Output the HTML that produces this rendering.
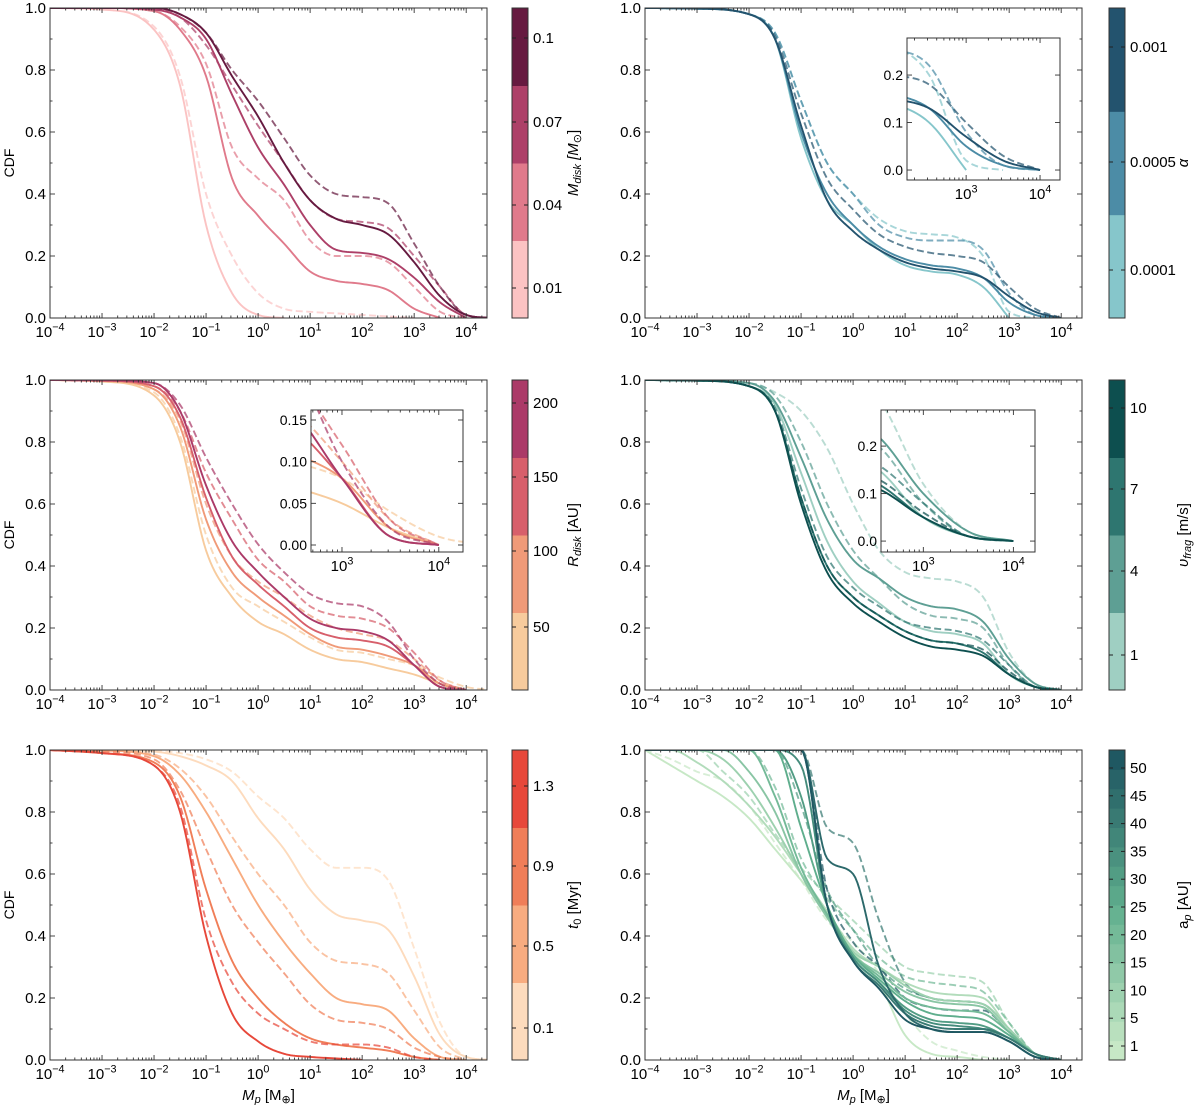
<!DOCTYPE html>
<html><head><meta charset="utf-8"><style>
html,body{margin:0;padding:0;background:#fff}
svg{display:block;font-family:"Liberation Sans","DejaVu Sans",sans-serif}
</style></head><body>
<svg id="fig" width="1200" height="1105" viewBox="0 0 1200 1105" xmlns="http://www.w3.org/2000/svg"></svg>
<script>
// ---------- data ----------
const G = [-4,-3,-2,-1.5,-1,-0.5,0,0.5,1,1.5,2,2.5,3,3.5,4,4.5];
const G6 = [-4,-3.5,-3,-2.5,-2,-1.5,-1,-0.5,0,0.5,1,1.5,2,2.5,3,3.5,4,4.5];

// Panel 1: M_disk
const mdisk001Solid = [1,0.995,0.93,0.75,0.3,0.08,0.01,0,0,0,0,0,0,0,0,0];
const mdisk001Dash  = [1,0.995,0.94,0.78,0.4,0.2,0.08,0.03,0.02,0.015,0.01,0.005,0,0,0,0];
const mdisk004Solid = [1,1,0.99,0.93,0.78,0.45,0.33,0.24,0.15,0.12,0.11,0.09,0.03,0,0,0];
const mdisk004Dash  = [1,1,0.99,0.94,0.82,0.55,0.45,0.38,0.25,0.2,0.2,0.18,0.1,0.02,0,0];
const mdisk007Solid = [1,1,0.995,0.97,0.9,0.72,0.55,0.43,0.3,0.22,0.21,0.19,0.13,0.05,0,0];
const mdisk007Dash  = [1,1,0.995,0.97,0.88,0.75,0.62,0.5,0.38,0.32,0.31,0.29,0.2,0.1,0.01,0];
const mdisk01Solid  = [1,1,1,0.98,0.92,0.78,0.65,0.5,0.38,0.32,0.3,0.27,0.18,0.07,0.01,0];
const mdisk01Dash   = [1,1,1,0.98,0.92,0.8,0.7,0.58,0.46,0.4,0.39,0.37,0.24,0.1,0.01,0];
// Panel 2: alpha
const alpha1e4Solid = [1,0.998,0.98,0.9,0.58,0.38,0.3,0.22,0.17,0.15,0.14,0.1,0,0,0,0];
const alpha1e4Dash  = [1,0.998,0.98,0.92,0.7,0.5,0.4,0.32,0.28,0.27,0.26,0.2,0.02,0,0,0];
const alpha5e4Solid = [1,0.998,0.98,0.9,0.6,0.4,0.3,0.23,0.19,0.17,0.16,0.13,0.05,0.01,0,0];
const alpha5e4Dash  = [1,0.998,0.98,0.92,0.7,0.5,0.4,0.3,0.26,0.25,0.25,0.22,0.08,0.01,0,0];
const alpha1e3Solid = [1,0.998,0.98,0.9,0.62,0.38,0.28,0.22,0.18,0.16,0.15,0.13,0.07,0.02,0,0];
const alpha1e3Dash  = [1,0.998,0.98,0.91,0.66,0.45,0.35,0.27,0.23,0.21,0.2,0.18,0.1,0.03,0,0];
// Panel 3: R_disk
const r50Solid  = [1,0.995,0.95,0.8,0.45,0.3,0.22,0.18,0.13,0.1,0.09,0.07,0.05,0.02,0,0];
const r50Dash   = [1,0.995,0.96,0.82,0.5,0.33,0.27,0.22,0.17,0.13,0.12,0.1,0.08,0.04,0.01,0];
const r100Solid = [1,0.997,0.97,0.85,0.55,0.38,0.3,0.24,0.18,0.14,0.13,0.11,0.08,0.02,0,0];
const r100Dash  = [1,0.997,0.97,0.87,0.6,0.43,0.35,0.3,0.24,0.2,0.18,0.16,0.1,0.03,0,0];
const r150Solid = [1,0.998,0.98,0.88,0.62,0.43,0.34,0.27,0.2,0.17,0.16,0.14,0.08,0.01,0,0];
const r150Dash  = [1,0.998,0.98,0.9,0.7,0.55,0.42,0.35,0.27,0.24,0.23,0.2,0.12,0.03,0,0];
const r200Solid = [1,0.999,0.99,0.9,0.66,0.48,0.38,0.3,0.23,0.2,0.19,0.16,0.08,0.01,0,0];
const r200Dash  = [1,0.999,0.99,0.92,0.75,0.6,0.47,0.38,0.31,0.28,0.27,0.22,0.1,0.02,0,0];
// Panel 4: v_frag
const v1Solid  = [1,0.998,0.98,0.92,0.7,0.48,0.35,0.28,0.22,0.19,0.18,0.15,0.05,0.01,0,0];
const v1Dash   = [1,0.999,0.99,0.96,0.9,0.78,0.6,0.45,0.38,0.36,0.35,0.3,0.12,0.02,0,0];
const v4Solid  = [1,0.998,0.99,0.93,0.75,0.55,0.42,0.36,0.3,0.27,0.26,0.22,0.1,0.02,0,0];
const v4Dash   = [1,0.998,0.99,0.95,0.8,0.6,0.45,0.36,0.28,0.24,0.23,0.2,0.08,0.01,0,0];
const v7Solid  = [1,0.998,0.98,0.9,0.62,0.4,0.3,0.24,0.19,0.16,0.15,0.12,0.05,0.01,0,0];
const v7Dash   = [1,0.998,0.98,0.91,0.65,0.43,0.33,0.27,0.22,0.2,0.19,0.16,0.08,0.01,0,0];
const v10Solid = [1,0.998,0.98,0.9,0.6,0.38,0.28,0.22,0.17,0.14,0.13,0.11,0.05,0.01,0,0];
const v10Dash  = [1,0.998,0.98,0.9,0.62,0.4,0.3,0.24,0.19,0.16,0.15,0.13,0.06,0.01,0,0];
// Panel 5: t0
const t01Solid = [1,1,0.995,0.98,0.95,0.9,0.78,0.68,0.55,0.47,0.45,0.42,0.27,0.08,0.01,0];
const t01Dash  = [1,1,0.997,0.99,0.97,0.93,0.85,0.78,0.68,0.62,0.62,0.58,0.36,0.12,0.01,0];
const t05Solid = [1,0.998,0.98,0.92,0.8,0.65,0.5,0.38,0.28,0.2,0.18,0.16,0.07,0.01,0,0];
const t05Dash  = [1,0.998,0.985,0.94,0.85,0.72,0.6,0.5,0.38,0.32,0.31,0.28,0.16,0.04,0,0];
const t09Solid = [1,0.99,0.96,0.85,0.55,0.32,0.2,0.12,0.07,0.05,0.04,0.03,0.01,0,0,0];
const t09Dash  = [1,0.995,0.97,0.87,0.68,0.5,0.38,0.28,0.18,0.13,0.12,0.1,0.04,0.01,0,0];
const t13Solid = [1,0.99,0.95,0.8,0.4,0.15,0.06,0.02,0.01,0.005,0,0,0,0,0,0];
const t13Dash  = [1,0.99,0.95,0.82,0.45,0.25,0.15,0.1,0.06,0.05,0.05,0.04,0.01,0,0,0];
// Panel 6: a_p (grid G6)
const ap1Solid  = [1,0.95,0.9,0.85,0.78,0.68,0.58,0.48,0.35,0.25,0.08,0.02,0.01,0,0,0,0,0];
const ap5Solid  = [1,1,0.96,0.9,0.82,0.72,0.6,0.48,0.36,0.3,0.25,0.22,0.21,0.2,0.1,0.02,0,0];
const ap10Solid = [1,1,1,0.97,0.88,0.75,0.6,0.47,0.35,0.3,0.24,0.2,0.19,0.18,0.1,0.02,0,0];
const ap15Solid = [1,1,1,1,0.93,0.8,0.6,0.46,0.34,0.28,0.22,0.19,0.18,0.17,0.09,0.02,0,0];
const ap20Solid = [1,1,1,1,1,0.85,0.62,0.47,0.34,0.27,0.2,0.17,0.16,0.15,0.09,0.02,0,0];
const ap25Solid = [1,1,1,1,1,1,0.75,0.5,0.34,0.26,0.19,0.15,0.14,0.13,0.08,0.02,0,0];
const ap30Solid = [1,1,1,1,1,1,0.85,0.5,0.33,0.25,0.17,0.13,0.12,0.11,0.07,0.02,0,0];
const ap35Solid = [1,1,1,1,1,1,0.95,0.5,0.33,0.25,0.16,0.12,0.11,0.1,0.07,0.02,0,0];
const ap40Solid = [1,1,1,1,1,1,1,0.5,0.32,0.24,0.15,0.11,0.1,0.1,0.07,0.02,0,0];
const ap45Solid = [1,1,1,1,1,1,1,0.65,0.6,0.3,0.15,0.1,0.09,0.09,0.06,0.01,0,0];
const ap50Solid = [1,1,1,1,1,1,1,0.5,0.32,0.23,0.13,0.1,0.09,0.09,0.06,0.01,0,0];
const ap1Dash   = [1,0.97,0.93,0.9,0.82,0.7,0.58,0.45,0.38,0.28,0.15,0.06,0.03,0.01,0,0,0,0];
const ap10Dash  = [1,1,1,0.93,0.85,0.73,0.62,0.53,0.45,0.37,0.3,0.28,0.27,0.25,0.12,0.02,0,0];
const ap20Dash  = [1,1,1,1,1,0.88,0.65,0.52,0.42,0.33,0.27,0.25,0.24,0.22,0.12,0.02,0,0];
const ap30Dash  = [1,1,1,1,1,1,0.82,0.55,0.42,0.3,0.23,0.2,0.19,0.18,0.1,0.02,0,0];
const ap40Dash  = [1,1,1,1,1,1,1,0.75,0.7,0.45,0.25,0.2,0.19,0.18,0.1,0.02,0,0];
const ap50Dash  = [1,1,1,1,1,1,1,0.55,0.38,0.3,0.2,0.17,0.16,0.16,0.09,0.02,0,0];

const yTickLabels = ["0.0","0.2","0.4","0.6","0.8","1.0"];
const yTickValues = [0,0.2,0.4,0.6,0.8,1.0];
const xTickExps = [-4,-3,-2,-1,0,1,2,3,4];

// ---------- helpers ----------
const NS="http://www.w3.org/2000/svg";
const svg=document.getElementById('fig');
function mk(tag,attrs,parent){const e=document.createElementNS(NS,tag);for(const k in attrs)e.setAttribute(k,attrs[k]);(parent||svg).appendChild(e);return e;}
function monotone(xs,ys){
  const n=xs.length,d=[],m=new Array(n);
  for(let i=0;i<n-1;i++)d.push((ys[i+1]-ys[i])/(xs[i+1]-xs[i]));
  m[0]=d[0];m[n-1]=d[n-2];
  for(let i=1;i<n-1;i++){m[i]=(d[i-1]*d[i]<=0)?0:(d[i-1]+d[i])/2;}
  for(let i=0;i<n-1;i++){if(d[i]===0){m[i]=0;m[i+1]=0;continue;}const a=m[i]/d[i],b=m[i+1]/d[i],s=a*a+b*b;if(s>9){const t=3/Math.sqrt(s);m[i]=t*a*d[i];m[i+1]=t*b*d[i];}}
  const pts=[];
  for(let i=0;i<n-1;i++){const h=xs[i+1]-xs[i];for(let k=0;k<12;k++){const t=k/12,t2=t*t,t3=t2*t;
    const y=(2*t3-3*t2+1)*ys[i]+(t3-2*t2+t)*h*m[i]+(-2*t3+3*t2)*ys[i+1]+(t3-t2)*h*m[i+1];pts.push([xs[i]+t*h,y]);}}
  pts.push([xs[n-1],ys[n-1]]);return pts;
}
function trim(xs,ys){let last=ys.length-1;while(last>0&&ys[last]===0&&ys[last-1]===0)last--;return [xs.slice(0,last+1),ys.slice(0,last+1)];}
function hex(c){return [parseInt(c.slice(1,3),16),parseInt(c.slice(3,5),16),parseInt(c.slice(5,7),16)];}
function mix(a,b,t){const A=hex(a),B=hex(b);return 'rgb('+A.map((v,i)=>Math.round(v+(B[i]-v)*t)).join(',')+')';}
function supLabel(parent,x,y,exp,size,name){
  const t=mk('text',{x:x,y:y,'text-anchor':'middle','font-size':size,fill:'#000'},parent);
  
  t.appendChild(document.createTextNode('10'));
  const s=mk('tspan',{'font-size':size*0.72,dy:-size*0.45},t);s.textContent=(exp<0?'\u2212':'')+Math.abs(exp);
  return t;
}
let clipId=0;
function drawSeries(g,sx,sy,grid,series,clip){
  series.forEach(s=>{
    const [xs,ys]=trim(grid,s.y);
    const pts=monotone(xs,ys);
    const d=pts.map((p,i)=>(i?'L':'M')+sx(p[0]).toFixed(2)+','+sy(Math.max(-0.001,p[1])).toFixed(2)).join('');
    const p=mk('path',{d:d,fill:'none',stroke:s.c,'stroke-width':1.9,'stroke-linejoin':'round','clip-path':'url(#'+clip+')'},g);
    if(s.dash){p.setAttribute('stroke-dasharray','7,3.5');p.setAttribute('stroke-opacity','0.72');}
    
    
  });
}
function panel(cfg){
  const g=mk('g',{});
  
  
  const L=cfg.l,T=cfg.t,W=437,H=310;
  const XMIN=-4,XMAX=4.4;
  const sx=v=>L+(v-XMIN)/(XMAX-XMIN)*W, sy=v=>T+H-(v)*H;
  const cid='clip'+(clipId++);
  const cp=mk('clipPath',{id:cid},g);mk('rect',{x:L,y:T,width:W,height:H},cp);
  drawSeries(g,sx,sy,cfg.grid,cfg.series,cid);
  const fr=mk('rect',{x:L,y:T,width:W,height:H,fill:'none',stroke:'#333','stroke-width':1},g);
  
  for(let e=-4;e<=4;e++){
    for(let k=1;k<10;k++){const v=e+Math.log10(k);if(v>XMAX)break;const x=sx(v),len=k===1?5:2.5;
      mk('line',{x1:x,x2:x,y1:T+H,y2:T+H-len,stroke:'#333','stroke-width':0.9},g);
      mk('line',{x1:x,x2:x,y1:T,y2:T+len,stroke:'#333','stroke-width':0.9},g);}
  }
  xTickExps.forEach(e=>supLabel(g,sx(e),T+H+19,e,15,'x-tick-label'));
  for(let i=0;i<=10;i++){const y=sy(i/10),len=i%2===0?5:2.5;
    mk('line',{x1:L,x2:L+len,y1:y,y2:y,stroke:'#333','stroke-width':0.9},g);
    mk('line',{x1:L+W,x2:L+W-len,y1:y,y2:y,stroke:'#333','stroke-width':0.9},g);}
  yTickValues.forEach((v,i)=>{const t=mk('text',{x:L-4,y:sy(v)+5,'text-anchor':'end','font-size':15},g);t.textContent=yTickLabels[i];
    });
  if(cfg.ylabel){const t=mk('text',{x:14,y:T+H/2,'text-anchor':'middle','font-size':14,transform:'rotate(-90 14 '+(T+H/2)+')'},g);t.textContent='CDF';
    }
  if(cfg.xlabel){const t=mk('text',{x:L+W/2,y:T+H+40,'text-anchor':'middle','font-size':15},g);
    
    const a=mk('tspan',{'font-style':'italic'},t);a.textContent='M';
    const b=mk('tspan',{'font-style':'italic','font-size':11,dy:3},t);b.textContent='p';
    const c=mk('tspan',{dy:-3},t);c.textContent=' [M';
    const d=mk('tspan',{'font-size':11,dy:3},t);d.textContent='\u2295';
    const e2=mk('tspan',{dy:-3},t);e2.textContent=']';}
  const cb=cfg.cb, cx=cfg.cbx, cw=16;
  const cg=mk('g',{},g);
  const nb=cb.colors.length,bh=H/nb;
  cb.colors.forEach((c,i)=>{mk('rect',{x:cx,y:T+H-(i+1)*bh,width:cw,height:bh+0.5,fill:c},cg);});
  mk('rect',{x:cx,y:T,width:cw,height:H,fill:'none',stroke:'#333','stroke-width':1},cg);
  cb.labels.forEach((lb,i)=>{const y=cb.pos[i];
    mk('line',{x1:cx,x2:cx+4,y1:y,y2:y,stroke:'#222','stroke-width':1},cg);
    mk('line',{x1:cx+cw,x2:cx+cw-4,y1:y,y2:y,stroke:'#222','stroke-width':1},cg);
    const t=mk('text',{x:cx+cw+5,y:y+5,'font-size':15},cg);t.textContent=lb;
    });
  const tx=cfg.cbTitleX,ty=T+H/2;
  const tt=mk('text',{x:tx,y:ty,'text-anchor':'middle','font-size':15,transform:'rotate(-90 '+tx+' '+ty+')'},cg);
  
  cfg.cbTitle.forEach(p=>{const s=mk('tspan',p.a||{},tt);s.textContent=p.t;});
  if(cfg.inset){const I=cfg.inset;
    const ig=mk('g',{},g);
    const ix=v=>I.l+(v-I.x0)/(I.x1-I.x0)*I.w, iy=v=>I.t+I.h-(v-I.y0)/(I.y1-I.y0)*I.h;
    mk('rect',{x:I.l,y:I.t,width:I.w,height:I.h,fill:'#fff'},ig);
    const icid='clip'+(clipId++);const icp=mk('clipPath',{id:icid},ig);mk('rect',{x:I.l,y:I.t,width:I.w,height:I.h},icp);
    drawSeries(ig,ix,iy,cfg.grid,cfg.series,icid);
    mk('rect',{x:I.l,y:I.t,width:I.w,height:I.h,fill:'none',stroke:'#333','stroke-width':1},ig);
    for(let e=2;e<=4;e++)for(let k=1;k<10;k++){const v=e+Math.log10(k);if(v<I.x0||v>I.x1)continue;const x=ix(v),len=k===1?5:2.5;
      mk('line',{x1:x,x2:x,y1:I.t+I.h,y2:I.t+I.h-len,stroke:'#333','stroke-width':0.9},ig);
      mk('line',{x1:x,x2:x,y1:I.t,y2:I.t+len,stroke:'#333','stroke-width':0.9},ig);}
    [3,4].forEach(e=>supLabel(ig,ix(e),I.t+I.h+19,e,15,'inset-x-tick-label'));
    I.yt.forEach((v,i)=>{const y=iy(v);
      mk('line',{x1:I.l,x2:I.l+5,y1:y,y2:y,stroke:'#333','stroke-width':0.9},ig);
      mk('line',{x1:I.l+I.w,x2:I.l+I.w-5,y1:y,y2:y,stroke:'#333','stroke-width':0.9},ig);
      const t=mk('text',{x:I.l-4,y:y+5,'text-anchor':'end','font-size':14},ig);t.textContent=I.yl[i];
      });
  }
}
const S=(y,c,dash,name)=>({y,c,dash,name});

// Panel 1
const cM=['#fbc3c3','#e07a8b','#ad4068','#661a40'];
panel({name:'panel-mdisk',l:50,t:8,grid:G,ylabel:true,cbx:512,cbTitleX:578,
  series:[S(mdisk001Dash,cM[0],1,'line-mdisk-0.01-dashed'),S(mdisk001Solid,cM[0],0,'line-mdisk-0.01'),
    S(mdisk004Dash,cM[1],1,'line-mdisk-0.04-dashed'),S(mdisk004Solid,cM[1],0,'line-mdisk-0.04'),
    S(mdisk007Dash,cM[2],1,'line-mdisk-0.07-dashed'),S(mdisk007Solid,cM[2],0,'line-mdisk-0.07'),
    S(mdisk01Dash,cM[3],1,'line-mdisk-0.1-dashed'),S(mdisk01Solid,cM[3],0,'line-mdisk-0.1')],
  cb:{colors:cM,labels:['0.1','0.07','0.04','0.01'],pos:[38,122,205,288]},
  cbTitle:[{t:'M',a:{'font-style':'italic'}},{t:'disk',a:{'font-style':'italic','font-size':11,dy:3}},{t:' [M',a:{'font-style':'italic',dy:-3}},{t:'\u2299',a:{'font-size':11,dy:3}},{t:']',a:{dy:-3}}]});
// Panel 2
const cA=['#86c6cb','#4c8ca6','#23536e'];
panel({name:'panel-alpha',l:645,t:8,grid:G,cbx:1109,cbTitleX:1188,
  series:[S(alpha1e4Dash,cA[0],1,'line-alpha-0.0001-dashed'),S(alpha1e4Solid,cA[0],0,'line-alpha-0.0001'),
    S(alpha5e4Dash,cA[1],1,'line-alpha-0.0005-dashed'),S(alpha5e4Solid,cA[1],0,'line-alpha-0.0005'),
    S(alpha1e3Dash,cA[2],1,'line-alpha-0.001-dashed'),S(alpha1e3Solid,cA[2],0,'line-alpha-0.001')],
  cb:{colors:cA,labels:['0.001','0.0005','0.0001'],pos:[47,162,270]},
  cbTitle:[{t:'\u03b1',a:{'font-style':'italic'}}],
  inset:{l:907,t:38,w:153,h:142,x0:2.2,x1:4.27,y0:-0.021,y1:0.278,yt:[0,0.1,0.2],yl:['0.0','0.1','0.2']}});
// Panel 3
const cR=['#f7cb9d','#f09a78','#d75f6b','#ab3a68'];
panel({name:'panel-rdisk',l:50,t:380,grid:G,ylabel:true,cbx:512,cbTitleX:578,
  series:[S(r50Dash,cR[0],1,'line-rdisk-50-dashed'),S(r50Solid,cR[0],0,'line-rdisk-50'),
    S(r100Dash,cR[1],1,'line-rdisk-100-dashed'),S(r100Solid,cR[1],0,'line-rdisk-100'),
    S(r150Dash,cR[2],1,'line-rdisk-150-dashed'),S(r150Solid,cR[2],0,'line-rdisk-150'),
    S(r200Dash,cR[3],1,'line-rdisk-200-dashed'),S(r200Solid,cR[3],0,'line-rdisk-200')],
  cb:{colors:cR,labels:['200','150','100','50'],pos:[403,477,551,627]},
  cbTitle:[{t:'R',a:{'font-style':'italic'}},{t:'disk',a:{'font-style':'italic','font-size':11,dy:3}},{t:' [AU]',a:{dy:-3}}],
  inset:{l:311,t:410,w:152,h:142,x0:2.68,x1:4.25,y0:-0.0084,y1:0.162,yt:[0,0.05,0.1,0.15],yl:['0.00','0.05','0.10','0.15']}});
// Panel 4
const cV=['#9fcfc2','#5e9f94','#2e7670','#0d4f4f'];
panel({name:'panel-vfrag',l:645,t:380,grid:G,cbx:1109,cbTitleX:1188,
  series:[S(v1Dash,cV[0],1,'line-vfrag-1-dashed'),S(v1Solid,cV[0],0,'line-vfrag-1'),
    S(v4Dash,cV[1],1,'line-vfrag-4-dashed'),S(v4Solid,cV[1],0,'line-vfrag-4'),
    S(v7Dash,cV[2],1,'line-vfrag-7-dashed'),S(v7Solid,cV[2],0,'line-vfrag-7'),
    S(v10Dash,cV[3],1,'line-vfrag-10-dashed'),S(v10Solid,cV[3],0,'line-vfrag-10')],
  cb:{colors:cV,labels:['10','7','4','1'],pos:[408,489,571,655]},
  cbTitle:[{t:'\u03c5',a:{'font-style':'italic'}},{t:'frag',a:{'font-style':'italic','font-size':11,dy:3}},{t:' [m/s]',a:{dy:-3}}],
  inset:{l:881,t:410,w:154,h:142,x0:2.53,x1:4.24,y0:-0.023,y1:0.276,yt:[0,0.1,0.2],yl:['0.0','0.1','0.2']}});
// Panel 5
const cT=['#fddbbd','#f8ac80','#f07e58','#e7483a'];
panel({name:'panel-t0',l:50,t:750,grid:G,ylabel:true,xlabel:true,cbx:512,cbTitleX:578,
  series:[S(t01Dash,cT[0],1,'line-t0-0.1-dashed'),S(t01Solid,cT[0],0,'line-t0-0.1'),
    S(t05Dash,cT[1],1,'line-t0-0.5-dashed'),S(t05Solid,cT[1],0,'line-t0-0.5'),
    S(t09Dash,cT[2],1,'line-t0-0.9-dashed'),S(t09Solid,cT[2],0,'line-t0-0.9'),
    S(t13Dash,cT[3],1,'line-t0-1.3-dashed'),S(t13Solid,cT[3],0,'line-t0-1.3')],
  cb:{colors:cT,labels:['1.3','0.9','0.5','0.1'],pos:[786,866,946,1028]},
  cbTitle:[{t:'t',a:{'font-style':'italic'}},{t:'0',a:{'font-size':11,dy:3}},{t:' [Myr]',a:{dy:-3}}]});
// Panel 6
const apSolid=[ap1Solid,ap5Solid,ap10Solid,ap15Solid,ap20Solid,ap25Solid,ap30Solid,ap35Solid,ap40Solid,ap45Solid,ap50Solid];
const apDash=[ap1Dash,ap10Dash,ap20Dash,ap30Dash,ap40Dash,ap50Dash];
const apLabels=['50','45','40','35','30','25','20','15','10','5','1'];
const apCol=t=>t<0.5?mix('#c7e8c6','#5fae8d',t*2):mix('#5fae8d','#1f5862',(t-0.5)*2);
const p6series=[];
apDash.forEach((a,i)=>p6series.push(S(a,apCol(i/5),1,'line-ap-dashed-'+i)));
apSolid.forEach((a,i)=>p6series.push(S(a,apCol(i/10),0,'line-ap-'+i)));
const apBands=[];for(let i=0;i<16;i++)apBands.push(apCol(i/15));
panel({name:'panel-ap',l:645,t:750,grid:G6,xlabel:true,cbx:1109,cbTitleX:1188,
  series:p6series,
  cb:{colors:apBands,labels:apLabels,pos:apLabels.map((_,i)=>768+i*27.8)},
  cbTitle:[{t:'a'},{t:'p',a:{'font-style':'italic','font-size':11,dy:3}},{t:' [AU]',a:{dy:-3}}]});
</script>
</body></html>
